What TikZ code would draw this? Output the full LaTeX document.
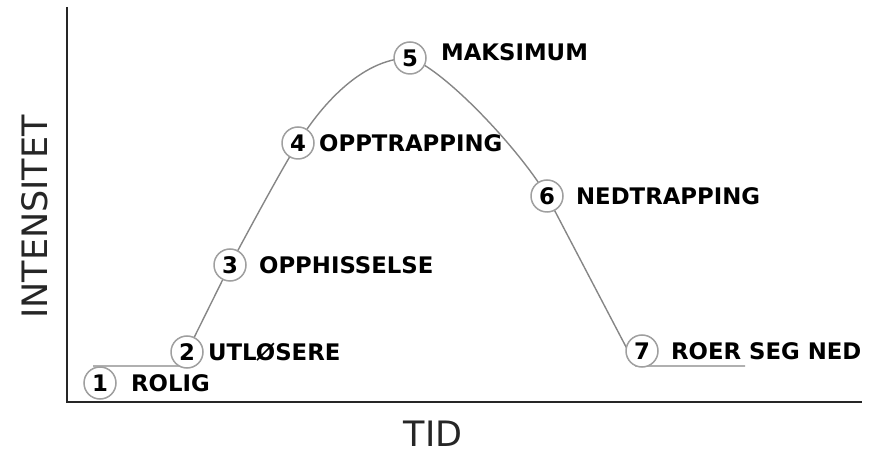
\documentclass[tikz,border=0pt]{standalone}
\usepackage{fontspec}
\setmainfont{DejaVu Sans}
\usepackage{tikz}
\tikzset{>=latex}
\usetikzlibrary{positioning, backgrounds}

\begin{document}
\begin{tikzpicture}[x=0.5pt, y=-0.5pt,
    stage/.style={circle, draw=gray!75, line width=0.75pt, fill=white, minimum size=16pt, inner sep=0pt, font=\fontsize{11.4}{13}\selectfont\bfseries},
    phase/.style={anchor=west, inner sep=0pt, font=\fontsize{11.4}{13}\selectfont\bfseries},
    axislabel/.style={inner sep=0pt, text=black!85, font=\fontsize{17.5}{20}\selectfont},
    curve/.style={gray!95, line width=0.7pt}]

    \useasboundingbox (0, 0) rectangle (870, 453);

    % Axes
    \coordinate (o) at (67, 402);
    \coordinate (ytop) at (67, 7);
    \coordinate (xend) at (862, 402);
    \draw[line width=1pt, black!85] (ytop) -- (o) -- (xend);
    \node[axislabel, rotate=90] (ylab) at (35, 217) {INTENSITET};
    \node[axislabel] (xlab) at (433, 434) {TID};

    % Stages
    \node[stage] (c1) at (100, 383) {1};
    \node[stage] (c2) at (187, 352) {2};
    \node[stage] (c3) at (230, 265) {3};
    \node[stage] (c4) at (298, 143) {4};
    \node[stage] (c5) at (410, 58) {5};
    \node[stage] (c6) at (547, 196) {6};
    \node[stage] (c7) at (642, 351) {7};

    \node[phase, right=7pt of c1] (l1) {ROLIG};
    \node[phase, right=2pt of c2] (l2) {UTLØSERE};
    \node[phase, right=6pt of c3] (l3) {OPPHISSELSE};
    \node[phase, right=2pt of c4] (l4) {OPPTRAPPING};
    \node[phase, right=7pt of c5, yshift=3pt] (l5) {MAKSIMUM};
    \node[phase, right=6pt of c6] (l6) {NEDTRAPPING};
    \node[phase, right=6pt of c7] (l7) {ROER SEG NED};

    % Curve behind the circles
    \coordinate (s) at (93, 366);
    \coordinate (k2) at (180, 366);
    \coordinate (k7) at (636, 366);
    \coordinate (e) at (745, 366);
    \begin{scope}[on background layer]
        \draw[curve] (s) -- (k2) -- (c3.center)
            .. controls (250, 228) and (280, 172) .. (c4.center)
            .. controls (318, 110) and (360, 58) .. (c5.center)
            .. controls (445, 70) and (520, 150) .. (c6.center)
            -- (k7) -- (e);
    \end{scope}

\end{tikzpicture}
\end{document}
